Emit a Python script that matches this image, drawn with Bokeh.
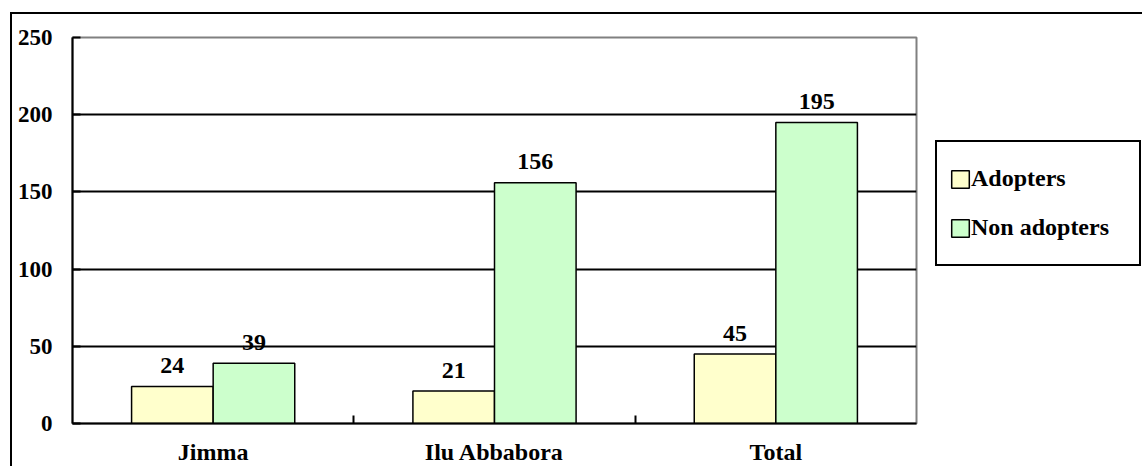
from bokeh.plotting import figure
from bokeh.models import (ColumnDataSource, Range1d, FixedTicker, Legend, LegendItem,
                          Label, InlineStyleSheet)
from bokeh.transform import dodge
from bokeh.core.properties import value
from bokeh.embed import file_html
from bokeh.resources import INLINE

# ---- data ----
zones = ["Jimma", "Ilu Abbabora", "Total"]
adopters = [24, 21, 45]
non_adopters = [39, 156, 195]
series_names = ["Adopters", "Non adopters"]
y_ticks = [0, 50, 100, 150, 200, 250]
title_bold = "Figure 1:"
title_rest = "Adoption status by Zone"

FONT = "Liberation Serif"

pos = [i + 0.5 for i in range(len(zones))]
src = ColumnDataSource(dict(
    x=pos, zone=zones, adopters=adopters, non=non_adopters,
    a_lab=[str(v) for v in adopters], n_lab=[str(v) for v in non_adopters]))

p = figure(frame_width=844, frame_height=386,
           x_range=Range1d(0, len(zones)), y_range=Range1d(0, 250),
           output_backend="svg", toolbar_location=None,
           min_border_left=72, min_border_right=226,
           min_border_top=37, min_border_bottom=43,
           background_fill_color="white", border_fill_color="white")

w = 0.29
off = w / 2
ra = p.vbar(x=dodge("x", -off), top="adopters", width=w, source=src,
            fill_color="#FFFFCC", line_color="black", line_width=1.5)
rn = p.vbar(x=dodge("x", off), top="non", width=w, source=src,
            fill_color="#CCFFCC", line_color="black", line_width=1.5)

for col, lab, dx in (("adopters", "a_lab", -off), ("non", "n_lab", off)):
    p.text(x=dodge("x", dx), y=col, text=lab, source=src,
           text_align="center", text_baseline="alphabetic", y_offset=-21,
           text_font=value(FONT), text_font_style="bold",
           text_font_size="24px", text_color="black")

# grid
p.xgrid.visible = False
p.ygrid.ticker = FixedTicker(ticks=y_ticks)
p.ygrid.grid_line_color = "black"
p.ygrid.grid_line_width = 2

p.outline_line_color = "#808080"
p.outline_line_width = 2

# y axis
ya = p.yaxis[0]
ya.ticker = FixedTicker(ticks=y_ticks)
ya.axis_line_color = "black"
ya.axis_line_width = 2
ya.major_tick_in = 8
ya.major_tick_out = 0
ya.major_tick_line_width = 2
ya.minor_tick_line_color = None
ya.major_label_standoff = 20
ya.major_label_text_font = FONT
ya.major_label_text_font_style = "bold"
ya.major_label_text_font_size = "23px"
ya.major_label_text_color = "black"

# x axis
xa = p.xaxis[0]
xa.ticker = FixedTicker(ticks=pos, minor_ticks=list(range(1, len(zones))))
xa.major_label_overrides = {x: z for x, z in zip(pos, zones)}
xa.axis_line_color = "black"
xa.axis_line_width = 2
xa.major_tick_in = 0
xa.major_tick_out = 0
xa.minor_tick_in = 8
xa.minor_tick_out = 0
xa.minor_tick_line_color = "black"
xa.minor_tick_line_width = 2
xa.major_label_standoff = 15
xa.major_label_text_font = FONT
xa.major_label_text_font_style = "bold"
xa.major_label_text_font_size = "24px"
xa.major_label_text_color = "black"

# legend (outside the plot area, on the right)
legend = Legend(items=[LegendItem(label=series_names[0], renderers=[ra]),
                       LegendItem(label=series_names[1], renderers=[rn])],
                location=(19, 157), orientation="vertical",
                glyph_width=22, glyph_height=22, label_width=156, label_height=49,
                spacing=0, padding=12, label_standoff=0, margin=0,
                border_line_color="black", border_line_width=2.5, border_line_alpha=1,
                background_fill_color="white", background_fill_alpha=1,
                label_text_font=FONT, label_text_font_style="bold",
                label_text_font_size="24px", label_text_color="black")
p.add_layout(legend, "right")

# figure caption (mostly cut off at the top, as in the source)
p.add_layout(Label(x=-0.245, y=269.6, text=title_bold, text_font=FONT,
                   text_font_style="bold", text_font_size="26px",
                   text_baseline="alphabetic", text_color="black"))
p.add_layout(Label(x=0.188, y=269.6, text=title_rest, text_font=FONT,
                   text_font_size="26px", text_baseline="alphabetic",
                   text_color="black"))

# outer frame of the figure panel (left and top edges)
p.stylesheets = [InlineStyleSheet(css=(
    ":host::after { content: ''; position: absolute; left: 10px; top: 12px; "
    "right: 0; bottom: 0; border-left: 2px solid black; border-top: 2px solid black; "
    "pointer-events: none; z-index: 10; }"))]

open("out.html", "w").write(file_html(p, INLINE))
